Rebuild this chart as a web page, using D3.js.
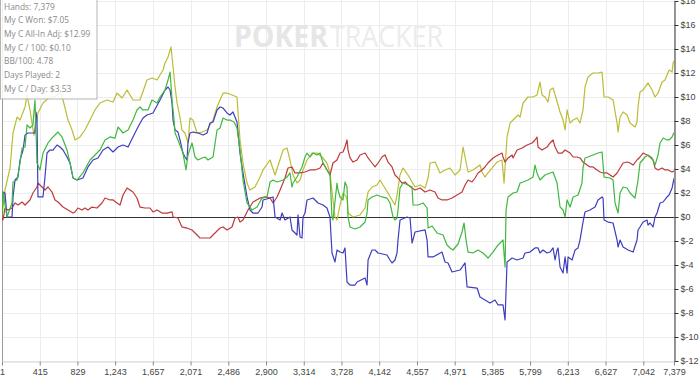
<!DOCTYPE html>
<html>
<head>
<meta charset="utf-8">
<script src="https://cdn.jsdelivr.net/npm/d3@7"></script>
<style>
  html, body { margin: 0; padding: 0; background: #fff; }
  svg { display: block; }
  .axis text { font-family: "Liberation Sans", Arial, sans-serif; font-size: 9px; fill: #444; }
  .stats text { font-family: "Open Sans", sans-serif; font-size: 8.4px; fill: #8a8a8a; }
</style>
</head>
<body>
<svg id="chart" width="700" height="376"></svg>
<script>
(function () {
  "use strict";

  // ── Data ──────────────────────────────────────────
  const X_TICKS = [1, 415, 829, 1243, 1657, 2071, 2486, 2900, 3314, 3728, 4142,
    4557, 4971, 5385, 5799, 6213, 6627, 7042, 7379];
  const Y_TICKS = [-12, -10, -8, -6, -4, -2, 0, 2, 4, 6, 8, 10, 12, 14, 16, 18];

  const STATS = [
    "Hands: 7,379",
    "My C Won: $7.05",
    "My C All-In Adj: $12.99",
    "My C / 100: $0.10",
    "BB/100: 4.78",
    "Days Played: 2",
    "My C / Day: $3.53"
  ];

  // [hand, dollars]
  const allInAdj = [[1,0],[34,2.25],[89,4.08],[122,7.0],[166,8.33],[199,8.08],[254,9.17],[276,10.17],[308,8.92],[352,6.83],
    [396,8.67],[451,9.5],[528,10.0],[583,10.0],[638,10.33],[671,9.75],[726,8.08],[770,7.25],[803,6.42],[857,6.67],
    [912,7.25],[967,8.08],[1022,8.92],[1077,9.5],[1154,9.75],[1220,9.58],[1264,10.33],[1319,9.92],[1374,10.58],[1439,9.75],
    [1516,9.75],[1593,11.42],[1648,11.58],[1703,11.42],[1769,12.25],[1791,12.83],[1824,13.33],[1857,14.17],[1879,12.5],[1901,10.83],
    [1923,9.5],[1955,8.33],[1977,7.25],[2010,7.0],[2043,6.17],[2065,8.25],[2098,8.08],[2142,7.0],[2197,7.08],[2252,7.25],
    [2318,8.08],[2362,9.17],[2428,10.33],[2471,10.33],[2526,10.17],[2581,10.0],[2614,6.42],[2647,4.5],[2691,2.83],[2724,2.25],
    [2779,2.5],[2834,3.33],[2867,3.92],[2944,4.75],[2999,3.5],[3087,5.58],[3130,5.75],[3163,4.75],[3196,3.5],[3240,2.83],
    [3273,3.08],[3306,3.92],[3350,4.75],[3405,5.33],[3460,5.33],[3515,5.0],[3569,4.5],[3602,3.67],[3635,1.42],[3657,0],
    [3679,-0.25],[3712,1.0],[3745,2.0],[3789,1.58],[3800,0.33],[3855,0],[3932,0.17],[3987,0.75],[4020,2.08],[4064,2.5],
    [4119,2.67],[4152,3.08],[4184,2.67],[4239,2.0],[4283,1.42],[4316,1.0],[4338,1.83],[4371,3.5],[4404,4.08],[4459,3.5],
    [4503,2.92],[4536,2.5],[4591,2.67],[4646,2.42],[4679,3.25],[4701,4.5],[4756,4.58],[4810,3.67],[4865,3.92],[4920,4.08],
    [4975,3.5],[5030,3.92],[5063,5.83],[5085,5.0],[5118,3.75],[5172,3.92],[5249,4.33],[5271,3.75],[5304,3.33],[5337,3.67],
    [5392,4.17],[5436,4.58],[5491,4.75],[5513,2.83],[5546,6.67],[5579,7.83],[5612,8.08],[5667,8.5],[5689,8.33],[5722,9.5],
    [5776,10.0],[5831,10.0],[5875,10.17],[5908,11.25],[5930,10.17],[5963,10.0],[5996,9.58],[6018,10.58],[6051,10.75],[6084,9.92],
    [6128,8.75],[6161,8.08],[6183,7.25],[6205,8.92],[6238,7.83],[6271,8.08],[6314,8.25],[6347,7.83],[6380,8.92],[6402,10.83],
    [6435,11.67],[6490,12.0],[6545,12.0],[6589,12.08],[6611,10.0],[6655,10.0],[6710,9.75],[6754,7.83],[6765,7.08],[6787,8.33],
    [6820,8.75],[6864,8.5],[6896,7.83],[6951,7.5],[6973,7.92],[6984,9.17],[7006,10.42],[7039,10.58],[7094,11.17],[7138,10.58],
    [7171,10.0],[7204,10.33],[7248,11.25],[7281,11.42],[7303,11.83],[7325,12.25],[7358,12.08],[7369,12.83],[7379,12.99]];

  const won = [[1,0],[12,2.08],[56,0],[111,1.17],[122,2.92],[166,3.08],[199,4.5],[221,5.75],[254,5.83],[276,7.67],
    [308,7.42],[341,7.67],[363,9.75],[374,7.25],[385,4.5],[418,3.92],[451,5.33],[506,6.17],[561,6.67],[616,7.08],
    [660,6.67],[715,5.58],[748,4.5],[781,3.25],[824,3.08],[890,3.67],[967,4.75],[1044,5.33],[1077,5.58],[1132,6.42],
    [1187,6.67],[1242,6.58],[1275,7.5],[1330,7.0],[1385,7.25],[1439,8.08],[1483,8.92],[1516,9.17],[1549,8.92],[1604,8.92],
    [1648,9.75],[1703,9.5],[1736,10.0],[1791,10.58],[1824,11.42],[1846,12.08],[1868,9.75],[1890,8.08],[1901,7.0],[1933,6.42],
    [1988,5.33],[2021,3.92],[2043,5.17],[2087,6.17],[2120,5.0],[2153,4.75],[2197,4.92],[2230,5.0],[2263,4.75],[2318,5.0],
    [2362,7.25],[2395,7.42],[2428,8.25],[2471,8.08],[2504,8.08],[2548,7.92],[2581,7.42],[2614,5.58],[2647,3.08],[2691,1.17],
    [2746,0.58],[2801,0.83],[2856,1.58],[2911,1.67],[2944,2.92],[2977,3.08],[3021,2.92],[3087,3.08],[3130,3.33],[3163,3.67],
    [3185,2.5],[3196,2.83],[3240,3.33],[3295,4.17],[3328,5.0],[3350,5.33],[3383,5.0],[3416,5.33],[3460,5.17],[3493,5.33],
    [3526,4.5],[3569,3.92],[3602,3.5],[3624,0],[3635,-0.25],[3679,2.83],[3690,2.25],[3712,1.67],[3745,1.42],[3767,2.92],
    [3789,2.5],[3800,0],[3822,-0.83],[3877,-1.0],[3932,-0.83],[3987,-0.42],[4009,0.33],[4020,1.42],[4064,1.67],[4119,1.83],
    [4173,1.67],[4228,1.58],[4261,1.17],[4294,0],[4316,-0.25],[4338,-0.08],[4349,0.58],[4371,2.42],[4404,2.83],[4459,2.67],
    [4503,2.5],[4514,1.0],[4569,1.0],[4624,1.17],[4668,0.75],[4679,-0.92],[4723,-0.75],[4777,-1.33],[4843,-1.5],[4887,-2.33],
    [4920,-2.58],[4953,-2.75],[5008,-2.25],[5052,-1.25],[5074,-0.5],[5096,-1.92],[5118,-2.92],[5172,-3.0],[5227,-2.75],[5282,-3.0],
    [5337,-3.42],[5392,-2.92],[5447,-2.33],[5502,-1.92],[5524,-4.17],[5535,0.58],[5557,1.67],[5612,2.0],[5656,2.08],[5689,2.83],
    [5722,2.92],[5776,3.08],[5831,3.33],[5853,4.33],[5875,3.67],[5908,3.08],[5963,3.5],[6018,3.67],[6051,3.75],[6095,2.83],
    [6128,0.83],[6161,0.58],[6183,0],[6205,1.42],[6238,0.83],[6271,1.67],[6326,1.83],[6369,2.83],[6380,4.08],[6402,4.92],
    [6435,5.0],[6490,5.17],[6545,5.33],[6589,5.42],[6611,3.33],[6677,3.25],[6710,3.08],[6732,1.17],[6765,0.33],[6787,2.0],
    [6820,2.5],[6864,2.42],[6896,2.0],[6951,1.58],[6984,3.08],[7006,4.5],[7061,5.0],[7094,5.17],[7138,4.92],[7171,4.33],
    [7204,5.17],[7226,6.17],[7259,6.58],[7303,6.42],[7325,6.42],[7358,6.67],[7379,7.05]];

  const showdown = [[1,0],[12,2.08],[34,2.0],[56,0],[111,0],[122,1.67],[144,3.08],[177,3.33],[199,4.75],[232,5.58],
    [254,6.83],[286,7.0],[363,7.0],[374,8.75],[385,8.25],[396,1.67],[451,1.67],[473,3.33],[495,5.33],[528,5.58],
    [561,5.58],[605,6.0],[638,5.83],[671,5.58],[715,5.0],[748,4.5],[781,3.25],[824,3.08],[890,3.25],[945,4.17],
    [1000,4.75],[1055,4.92],[1110,5.58],[1165,5.83],[1220,5.42],[1275,5.83],[1330,6.0],[1385,5.83],[1439,6.67],[1494,7.5],
    [1549,8.25],[1593,8.5],[1659,8.67],[1736,9.75],[1791,10.58],[1824,10.83],[1846,10.58],[1868,9.5],[1879,8.08],[1901,7.25],
    [1933,7.08],[1955,6.42],[1988,5.33],[2010,5.0],[2032,4.75],[2043,6.17],[2065,7.0],[2098,7.08],[2153,7.0],[2208,6.83],
    [2252,7.0],[2285,7.83],[2318,7.92],[2362,8.92],[2395,9.17],[2428,9.08],[2471,8.67],[2504,8.5],[2537,8.75],[2581,7.92],
    [2614,5.33],[2647,3.67],[2691,1.67],[2724,0.58],[2757,0.33],[2812,0.33],[2856,0.83],[2867,1.42],[2944,1.58],[2977,1.67],
    [2999,0],[3054,-0.25],[3076,0.33],[3108,-0.25],[3163,0],[3185,-1.08],[3240,-1.5],[3251,0.17],[3273,-1.67],[3295,-1.75],
    [3306,0],[3328,0.33],[3350,1.42],[3416,1.58],[3438,1.42],[3471,1.17],[3526,1.0],[3569,0.75],[3602,0],[3624,-3.0],
    [3657,-3.75],[3679,-2.75],[3712,-2.92],[3745,-3.0],[3767,-2.58],[3789,-5.42],[3822,-5.67],[3877,-5.67],[3899,-5.42],[3987,-5.08],
    [4009,-5.67],[4020,-3.58],[4064,-2.75],[4097,-2.75],[4130,-3.0],[4228,-3.17],[4261,-3.58],[4283,-3.83],[4316,-3.58],[4338,-3.0],
    [4349,-1.92],[4371,-0.25],[4448,0],[4481,-0.08],[4503,-2.17],[4536,-1.25],[4646,-1.08],[4668,-1.92],[4679,-3.33],[4734,-3.33],
    [4832,-2.92],[4865,-3.75],[4898,-3.83],[4942,-4.58],[5030,-4.42],[5085,-3.83],[5107,-5.83],[5217,-5.92],[5249,-6.67],[5304,-6.92],
    [5359,-7.17],[5414,-6.92],[5447,-7.33],[5502,-7.33],[5524,-8.58],[5546,-3.75],[5601,-3.42],[5656,-3.58],[5722,-3.42],[5743,-3.0],
    [5798,-2.92],[5853,-2.58],[5886,-2.58],[5908,-3.0],[5941,-2.75],[5985,-3.0],[6018,-2.92],[6051,-2.58],[6073,-3.58],[6095,-2.75],
    [6106,-2.58],[6128,-4.17],[6161,-4.67],[6183,-3.33],[6205,-4.67],[6216,-3.33],[6260,-3.58],[6293,-2.75],[6325,-2.58],[6347,-1.92],
    [6380,-0.42],[6402,0.42],[6457,0.58],[6512,0.83],[6545,1.42],[6589,1.67],[6600,1.58],[6611,-0.25],[6655,-0.42],[6710,-0.5],
    [6754,-1.92],[6765,-2.5],[6787,-1.92],[6820,-2.5],[6875,-2.75],[6930,-2.92],[6973,-1.92],[6984,-1.08],[7006,-0.83],[7039,-0.42],
    [7083,-0.25],[7094,-0.67],[7116,-0.5],[7149,-0.83],[7171,0],[7193,0.33],[7226,1.17],[7259,1.25],[7303,1.67],[7325,1.83],
    [7358,2.42],[7379,3.22]];

  const nonShowdown = [[1,0],[12,-0.25],[34,0.75],[67,0.58],[111,0.75],[144,1.17],[177,1.0],[221,1.25],[254,1.0],[308,1.42],
    [341,2.0],[385,2.5],[396,2.83],[440,2.5],[473,2.25],[506,2.5],[550,2.08],[583,1.42],[616,1.25],[671,0.83],
    [726,0.58],[781,0.33],[803,0.42],[835,0.75],[879,0.58],[912,0.75],[945,0.58],[989,0.83],[1044,0.75],[1099,1.17],
    [1132,1.58],[1187,1.42],[1220,1.42],[1264,1.17],[1297,1.0],[1330,1.83],[1374,2.42],[1406,2.25],[1439,2.08],[1483,1.58],
    [1516,0.83],[1571,0.75],[1626,0.75],[1659,0.42],[1703,0.58],[1758,0.33],[1813,0.33],[1868,0.42],[1879,0],[1933,-0.08],
    [1977,-0.83],[2032,-0.92],[2087,-1.08],[2142,-1.5],[2175,-1.75],[2230,-1.75],[2285,-1.75],[2340,-1.33],[2395,-0.92],[2428,-0.83],
    [2471,-1.08],[2526,-0.83],[2559,-0.08],[2592,0],[2614,-0.42],[2647,-0.25],[2702,0.58],[2757,1.25],[2834,1.58],[2889,1.67],
    [2944,1.58],[2977,1.17],[3021,1.67],[3054,2.25],[3108,3.25],[3141,4.08],[3185,4.17],[3218,3.67],[3273,3.67],[3328,3.75],
    [3383,3.92],[3438,3.92],[3493,4.08],[3526,4.5],[3570,3.92],[3602,3.5],[3635,4.5],[3679,4.75],[3712,5.33],[3745,5.42],
    [3767,5.83],[3789,6.42],[3800,5.58],[3822,4.92],[3855,4.58],[3899,4.75],[3932,5.17],[3987,5.33],[4020,4.92],[4064,4.5],
    [4097,4.17],[4130,4.5],[4173,5.0],[4206,5.17],[4239,4.58],[4283,4.17],[4316,3.5],[4349,3.25],[4393,2.83],[4426,2.92],
    [4459,2.67],[4503,2.42],[4536,2.25],[4591,2.42],[4646,2.08],[4700,2.25],[4755,2.08],[4788,1.58],[4832,1.42],[4887,1.42],
    [4942,1.58],[4997,1.83],[5052,2.08],[5085,2.67],[5118,3.08],[5162,2.92],[5195,3.25],[5227,3.67],[5271,3.92],[5304,4.17],
    [5337,4.5],[5392,4.92],[5447,5.17],[5491,5.33],[5502,5.0],[5524,4.58],[5557,4.92],[5601,5.17],[5612,4.92],[5656,5.58],
    [5711,5.75],[5766,6.0],[5821,6.17],[5853,6.42],[5875,6.67],[5886,5.83],[5930,5.58],[5985,5.83],[6018,6.17],[6051,6.42],
    [6073,5.83],[6106,5.33],[6150,5.33],[6183,5.58],[6238,5.33],[6271,5.0],[6314,5.0],[6347,4.92],[6380,4.58],[6424,4.33],
    [6457,4.17],[6490,4.17],[6534,3.92],[6567,3.75],[6600,3.67],[6644,3.67],[6677,3.5],[6710,3.33],[6754,3.67],[6787,4.08],
    [6820,4.5],[6864,4.58],[6896,4.5],[6929,4.33],[6973,4.75],[7006,5.0],[7039,5.33],[7083,5.17],[7116,5.0],[7149,4.75],
    [7171,4.08],[7204,3.92],[7248,4.08],[7281,3.92],[7314,3.92],[7358,3.75],[7379,3.83]];

  const SERIES = [
    { name: "allInAdj", color: "#bcbc36", values: allInAdj },
    { name: "nonShowdown", color: "#bf3a3a", values: nonShowdown },
    { name: "showdown", color: "#3d3dc0", values: showdown },
    { name: "won", color: "#3fb83f", values: won }
  ];

  // ── Layout ────────────────────────────────────────
  const PLOT = { left: 2, right: 674, top: 1, bottom: 361 };

  const svg = d3.select("#chart");

  const x = d3.scaleLinear().domain([1, 7379]).range([PLOT.left, PLOT.right]);
  const y = d3.scaleLinear().domain([-12, 18]).range([PLOT.bottom, PLOT.top]);

  // Grid
  const gGrid = svg.append("g");
  gGrid.selectAll(".vg").data(X_TICKS).enter().append("line")
    .attr("x1", d => Math.round(x(d)) + 0.5).attr("x2", d => Math.round(x(d)) + 0.5)
    .attr("y1", 0).attr("y2", PLOT.bottom)
    .attr("stroke", "#ededed");
  gGrid.selectAll(".hg").data(Y_TICKS).enter().append("line")
    .attr("x1", PLOT.left).attr("x2", PLOT.right)
    .attr("y1", d => Math.round(y(d)) + 0.5).attr("y2", d => Math.round(y(d)) + 0.5)
    .attr("stroke", "#ededed");

  // Watermark
  const wm = svg.append("g").attr("font-family", "Open Sans, sans-serif");
  wm.append("text").attr("x", 234).attr("y", 47)
    .attr("font-size", 30).attr("font-weight", 700).attr("fill", "#e6e6e6")
    .attr("textLength", 94).attr("lengthAdjust", "spacingAndGlyphs")
    .text("POKER");
  wm.append("text").attr("x", 330).attr("y", 47)
    .attr("font-size", 30).attr("font-weight", 400).attr("fill", "#ececec")
    .attr("textLength", 113).attr("lengthAdjust", "spacingAndGlyphs")
    .text("TRACKER");

  // Left border
  svg.append("line")
    .attr("x1", PLOT.left + 0.5).attr("x2", PLOT.left + 0.5)
    .attr("y1", 0).attr("y2", PLOT.bottom)
    .attr("stroke", "#9a9a9a");

  // Zero line
  svg.append("line")
    .attr("x1", PLOT.left).attr("x2", PLOT.right)
    .attr("y1", Math.round(y(0)) + 0.5).attr("y2", Math.round(y(0)) + 0.5)
    .attr("stroke", "#333");

  // Lines
  svg.append("clipPath").attr("id", "clip").append("rect")
    .attr("x", PLOT.left).attr("y", 0)
    .attr("width", PLOT.right - PLOT.left).attr("height", PLOT.bottom);

  const line = d3.line().x(d => x(d[0])).y(d => y(d[1]));

  svg.append("g").attr("clip-path", "url(#clip)")
    .selectAll("path").data(SERIES).enter().append("path")
    .attr("d", d => line(d.values))
    .attr("fill", "none")
    .attr("stroke", d => d.color)
    .attr("stroke-width", 1.2)
    .attr("stroke-linejoin", "round");

  // Axes
  const yAxis = d3.axisRight(y)
    .tickValues(Y_TICKS)
    .tickSize(4).tickSizeOuter(0).tickPadding(2)
    .tickFormat(d => "$" + d);
  const gY = svg.append("g").attr("class", "axis")
    .attr("transform", `translate(${PLOT.right + 0.5},0)`)
    .call(yAxis);
  gY.select(".domain").attr("stroke", "#333");
  gY.selectAll(".tick line").attr("stroke", "#333");

  const xAxis = d3.axisBottom(x)
    .tickValues(X_TICKS)
    .tickSize(4).tickSizeOuter(0).tickPadding(3)
    .tickFormat(d3.format(","));
  const gX = svg.append("g").attr("class", "axis")
    .attr("transform", `translate(0,${PLOT.bottom + 0.5})`)
    .call(xAxis);
  gX.select(".domain").attr("stroke", "#d6d6d6");
  gX.selectAll(".tick line").attr("stroke", "#888");

  // Stats box
  const gStats = svg.append("g").attr("class", "stats");
  gStats.append("rect")
    .attr("x", 0.5).attr("y", -1)
    .attr("width", 96.5).attr("height", 100)
    .attr("fill", "#fff").attr("fill-opacity", 0.85)
    .attr("stroke", "#b4b4b4");
  gStats.selectAll("text").data(STATS).enter().append("text")
    .attr("x", 4)
    .attr("y", (d, i) => 9.5 + i * 13.7)
    .text(d => d);
})();
</script>
</body>
</html>
